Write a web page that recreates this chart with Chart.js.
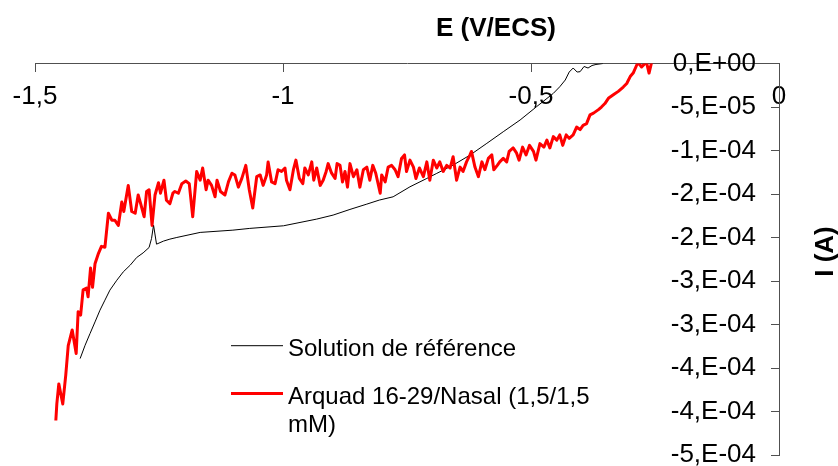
<!DOCTYPE html>
<html>
<head>
<meta charset="utf-8">
<script src="https://cdn.jsdelivr.net/npm/chart.js@4.4.1/dist/chart.umd.min.js"></script>
<style>
  html, body { margin: 0; padding: 0; background: #fff; }
  #wrap { width: 838px; height: 466px; }
</style>
</head>
<body>
<div id="wrap"><canvas id="c" width="838" height="466"></canvas></div>
<script>
// ---------- DATA ----------
const xAxisTitle = 'E (V/ECS)';
const yAxisTitle = 'I (A)';
const seriesNames = ['Solution de référence', 'Arquad 16-29/Nasal (1,5/1,5 mM)'];
const xTickLabels = ['-1,5', '-1', '-0,5', '0'];
const yTickLabels = ['0,E+00', '-5,E-05', '-1,E-04', '-2,E-04', '-2,E-04', '-3,E-04', '-3,E-04', '-4,E-04', '-4,E-04', '-5,E-04'];

// Solution de référence : E (V/ECS)
const refE = [-1.409,-1.399,-1.389,-1.379,-1.369,-1.359,-1.349,-1.335,-1.322,-1.308,-1.295,-1.282,-1.270,-1.265,-1.261,-1.255,-1.241,-1.228,-1.214,-1.167,-1.101,-1.067,-0.999,-0.932,-0.899,-0.865,-0.831,-0.806,-0.778,-0.744,-0.710,-0.690,-0.657,-0.623,-0.589,-0.556,-0.522,-0.489,-0.455,-0.442,-0.431,-0.423,-0.415,-0.407,-0.401,-0.393,-0.385,-0.377,-0.369,-0.355];
// Solution de référence : I (A)
const refI = [-3.389e-4,-3.236e-4,-3.101e-4,-2.968e-4,-2.833e-4,-2.718e-4,-2.603e-4,-2.489e-4,-2.393e-4,-2.316e-4,-2.228e-4,-2.175e-4,-2.113e-4,-2.009e-4,-1.856e-4,-2.075e-4,-2.040e-4,-2.017e-4,-1.998e-4,-1.940e-4,-1.914e-4,-1.894e-4,-1.864e-4,-1.787e-4,-1.741e-4,-1.676e-4,-1.615e-4,-1.569e-4,-1.531e-4,-1.416e-4,-1.320e-4,-1.262e-4,-1.167e-4,-1.052e-4,-0.917e-4,-0.784e-4,-0.649e-4,-0.497e-4,-0.343e-4,-0.267e-4,-0.190e-4,-0.098e-4,-0.052e-4,-0.098e-4,-0.094e-4,-0.034e-4,-0.052e-4,-0.023e-4,-0.011e-4,0];

// Arquad 16-29/Nasal : E (V/ECS)
const arqE = [-1.458,-1.456,-1.452,-1.444,-1.438,-1.433,-1.425,-1.417,-1.413,-1.408,
  -1.403,-1.396,-1.393,-1.388,-1.384,-1.379,-1.372,-1.366,-1.359,-1.352,
  -1.345,-1.339,-1.332,-1.325,-1.321,-1.312,-1.305,-1.298,-1.292,-1.287,
  -1.280,-1.275,-1.270,-1.264,-1.258,-1.251,-1.247,-1.240,-1.235,-1.228,
  -1.222,-1.218,-1.211,-1.204,-1.196,-1.189,-1.182,-1.174,-1.167,-1.162,
  -1.155,-1.151,-1.144,-1.137,-1.133,-1.126,-1.117,-1.110,-1.103,-1.097,
  -1.090,-1.083,-1.075,-1.068,-1.061,-1.053,-1.046,-1.040,-1.033,-1.030,
  -1.023,-1.016,-1.010,-1.003,-0.996,-0.993,-0.986,-0.979,-0.974,-0.967,
  -0.960,-0.956,-0.949,-0.942,-0.938,-0.932,-0.925,-0.919,-0.913,-0.909,
  -0.902,-0.895,-0.891,-0.885,-0.880,-0.875,-0.870,-0.865,-0.858,-0.851,
  -0.845,-0.838,-0.831,-0.825,-0.819,-0.813,-0.804,-0.801,-0.794,-0.788,
  -0.781,-0.774,-0.768,-0.761,-0.755,-0.751,-0.744,-0.737,-0.732,-0.725,
  -0.717,-0.710,-0.704,-0.697,-0.690,-0.684,-0.677,-0.670,-0.663,-0.657,
  -0.650,-0.643,-0.637,-0.630,-0.623,-0.620,-0.613,-0.606,-0.599,-0.593,
  -0.586,-0.579,-0.575,-0.568,-0.563,-0.556,-0.549,-0.544,-0.536,-0.529,
  -0.524,-0.517,-0.510,-0.503,-0.495,-0.490,-0.482,-0.474,-0.468,-0.462,
  -0.455,-0.448,-0.442,-0.436,-0.429,-0.423,-0.415,-0.408,-0.401,-0.395,
  -0.388,-0.381,-0.374,-0.364,-0.358,-0.351,-0.344,-0.334,-0.324,-0.314,
  -0.307,-0.300,-0.294,-0.287,-0.284,-0.277,-0.272,-0.267,-0.262,-0.257];
// Arquad 16-29/Nasal : I (A)
const arqI = [-4.10e-4,-3.91e-4,-3.68e-4,-3.91e-4,-3.58e-4,-3.24e-4,-3.06e-4,-3.33e-4,-2.85e-4,-2.89e-4,
  -2.60e-4,-2.58e-4,-2.68e-4,-2.35e-4,-2.57e-4,-2.30e-4,-2.18e-4,-2.10e-4,-2.11e-4,-1.72e-4,
  -1.80e-4,-1.80e-4,-1.86e-4,-1.59e-4,-1.70e-4,-1.40e-4,-1.70e-4,-1.72e-4,-1.51e-4,-1.61e-4,
  -1.76e-4,-1.47e-4,-1.45e-4,-1.86e-4,-1.51e-4,-1.37e-4,-1.49e-4,-1.34e-4,-1.57e-4,-1.61e-4,
  -1.49e-4,-1.47e-4,-1.49e-4,-1.38e-4,-1.35e-4,-1.38e-4,-1.76e-4,-1.24e-4,-1.34e-4,-1.20e-4,
  -1.45e-4,-1.34e-4,-1.40e-4,-1.53e-4,-1.34e-4,-1.47e-4,-1.51e-4,-1.36e-4,-1.26e-4,-1.28e-4,
  -1.42e-4,-1.32e-4,-1.17e-4,-1.45e-4,-1.66e-4,-1.30e-4,-1.28e-4,-1.40e-4,-1.28e-4,-1.13e-4,
  -1.36e-4,-1.38e-4,-1.22e-4,-1.24e-4,-1.20e-4,-1.34e-4,-1.45e-4,-1.22e-4,-1.11e-4,-1.32e-4,
  -1.38e-4,-1.20e-4,-1.28e-4,-1.13e-4,-1.34e-4,-1.20e-4,-1.40e-4,-1.34e-4,-1.24e-4,-1.15e-4,
  -1.26e-4,-1.32e-4,-1.15e-4,-1.17e-4,-1.36e-4,-1.24e-4,-1.42e-4,-1.15e-4,-1.30e-4,-1.22e-4,
  -1.42e-4,-1.22e-4,-1.19e-4,-1.34e-4,-1.17e-4,-1.26e-4,-1.49e-4,-1.28e-4,-1.36e-4,-1.19e-4,
  -1.17e-4,-1.22e-4,-1.30e-4,-1.09e-4,-1.05e-4,-1.24e-4,-1.11e-4,-1.19e-4,-1.32e-4,-1.20e-4,
  -1.30e-4,-1.13e-4,-1.34e-4,-1.11e-4,-1.20e-4,-1.13e-4,-1.24e-4,-1.17e-4,-1.20e-4,-1.07e-4,
  -1.34e-4,-1.19e-4,-1.24e-4,-1.13e-4,-1.05e-4,-1.01e-4,-1.19e-4,-1.30e-4,-1.13e-4,-1.22e-4,
  -1.09e-4,-1.05e-4,-1.22e-4,-1.17e-4,-1.13e-4,-1.09e-4,-1.13e-4,-1.01e-4,-0.97e-4,-1.03e-4,
  -1.11e-4,-0.96e-4,-1.05e-4,-0.94e-4,-1.01e-4,-1.11e-4,-0.92e-4,-0.96e-4,-0.88e-4,-0.97e-4,
  -0.84e-4,-0.88e-4,-0.82e-4,-0.94e-4,-0.82e-4,-0.86e-4,-0.82e-4,-0.73e-4,-0.76e-4,-0.71e-4,
  -0.69e-4,-0.59e-4,-0.57e-4,-0.53e-4,-0.50e-4,-0.46e-4,-0.40e-4,-0.36e-4,-0.32e-4,-0.27e-4,
  -0.23e-4,-0.15e-4,-0.11e-4,-0.02e-4,0.01e-4,-0.04e-4,-0.01e-4,0.01e-4,-0.11e-4,0.01e-4];

// ---------- CHART ----------
const FONT = '"Liberation Sans", Arial, Helvetica, sans-serif';
Chart.defaults.font.family = FONT;
Chart.defaults.color = '#000';

const toPts = (xs, ys) => xs.map((x, i) => ({x: x, y: ys[i]}));

const AXIS_COLOR = '#505050';
const Y_MIN = -4.5e-4, Y_MAX = 0, Y_STEP = 5e-5;

const annotations = {
  id: 'annotations',
  afterDraw(chart) {
    const c = chart.ctx;
    c.save();
    // axis titles
    c.fillStyle = '#000';
    c.font = 'bold 26px ' + FONT;
    c.textAlign = 'center';
    c.textBaseline = 'alphabetic';
    c.fillText(xAxisTitle, 496, 36);
    c.save();
    c.translate(833, 251.5);
    c.rotate(-Math.PI / 2);
    c.fillText(yAxisTitle, 0, 0);
    c.restore();

    // legend inside plot area
    const lx0 = 231, lx1 = 283, tx = 288;
    const ds = chart.data.datasets;
    c.font = '24px ' + FONT;
    c.textAlign = 'left';
    const items = [
      {ds: ds[0], lineY: 345.7, baselines: [355.5]},
      {ds: ds[1], lineY: 393.5, baselines: [404, 431.5]}
    ];
    items.forEach(it => {
      c.strokeStyle = it.ds.borderColor;
      c.lineWidth = it.ds.borderWidth;
      c.beginPath();
      c.moveTo(lx0, it.lineY);
      c.lineTo(lx1, it.lineY);
      c.stroke();
      const words = it.ds.label.split(' ');
      const lines = [];
      let cur = '';
      words.forEach(w => {
        const test = cur ? cur + ' ' + w : w;
        if (c.measureText(test).width > 320 && cur) { lines.push(cur); cur = w; }
        else cur = test;
      });
      if (cur) lines.push(cur);
      lines.forEach((ln, k) => {
        const by = it.baselines[k] !== undefined ? it.baselines[k] : it.baselines[0] + 27.5 * k;
        c.fillStyle = '#000';
        c.fillText(ln, tx, by);
      });
    });
    c.restore();
  }
};

new Chart(document.getElementById('c'), {
  type: 'scatter',
  data: {
    datasets: [
      { label: seriesNames[0], data: toPts(refE, refI), showLine: true,
        borderColor: '#000000', backgroundColor: '#000000', borderWidth: 1,
        pointRadius: 0, order: 2, borderJoinStyle: 'round' },
      { label: seriesNames[1], data: toPts(arqE, arqI), showLine: true,
        borderColor: '#ff0000', backgroundColor: '#ff0000', borderWidth: 3,
        pointRadius: 0, order: 1, borderJoinStyle: 'round' }
    ]
  },
  options: {
    responsive: false,
    animation: false,
    events: [],
    layout: { padding: { left: 35, right: 59, top: 63.5, bottom: 10.7 } },
    plugins: {
      legend: { display: false },
      tooltip: { enabled: false },
      title: { display: false }
    },
    scales: {
      x: {
        type: 'linear', min: -1.5, max: 0, position: { y: 0 },
        grid: { drawOnChartArea: false, drawTicks: true, tickLength: 8, color: AXIS_COLOR, lineWidth: 1 },
        border: { display: true, color: AXIS_COLOR, width: 1 },
        ticks: {
          stepSize: 0.5, padding: 10, color: '#000', maxRotation: 0,
          font: { size: 26 },
          callback: (v) => xTickLabels[Math.round((v + 1.5) / 0.5)]
        }
      },
      // axis line + inward tick marks at E = 0
      y: {
        type: 'linear', min: Y_MIN, max: Y_MAX, position: { x: 0 },
        grid: { drawOnChartArea: false, drawTicks: true, tickLength: 8, color: AXIS_COLOR, lineWidth: 1 },
        border: { display: true, color: AXIS_COLOR, width: 1 },
        ticks: { stepSize: Y_STEP, display: false, padding: 0, font: { size: 26, lineHeight: 0.8 } }
      },
      // tick labels of the current axis, set just left of the axis line
      yLabels: {
        axis: 'y', type: 'linear', min: Y_MIN, max: Y_MAX, position: { x: -0.0464 },
        grid: { display: false, drawTicks: false },
        border: { display: false },
        ticks: {
          stepSize: Y_STEP, padding: 0, color: '#000',
          font: { size: 26, lineHeight: 0.8 },
          callback: (v) => yTickLabels[Math.round(-v / Y_STEP)]
        }
      }
    }
  },
  plugins: [annotations]
});
</script>
</body>
</html>
